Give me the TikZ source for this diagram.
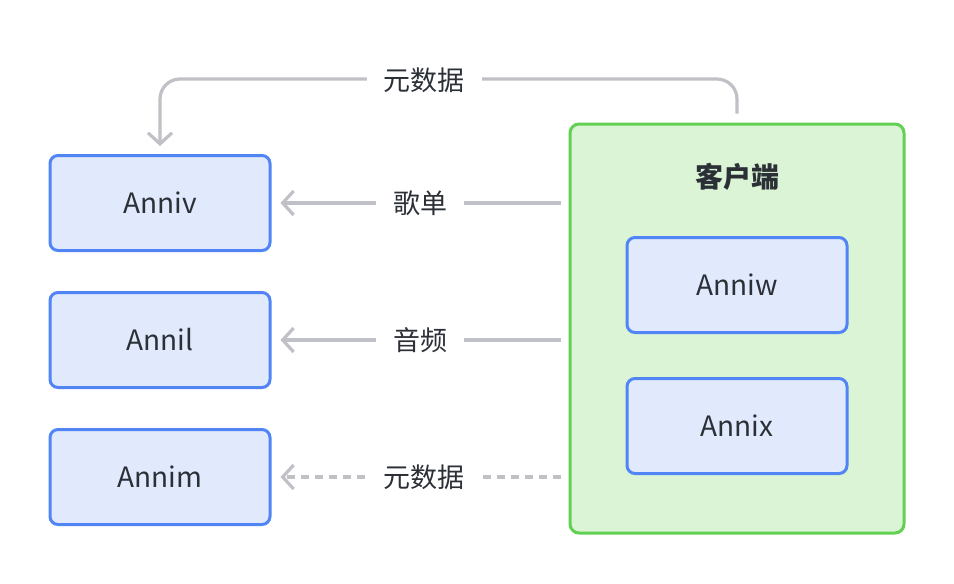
\documentclass[tikz,border=0pt]{standalone}
\usepackage{fontspec}
\setmainfont{Noto Sans CJK SC}
\usetikzlibrary{arrows.meta}
\definecolor{bstroke}{HTML}{5185F5}
\definecolor{bfill}{HTML}{E1E9FD}
\definecolor{gstroke}{HTML}{62D153}
\definecolor{gfill}{HTML}{DAF4D5}
\definecolor{lgray}{HTML}{BFC1C6}
\definecolor{txt}{HTML}{2B2F36}
\tikzset{
  svc/.style={draw=bstroke, fill=bfill, line width=3pt, rounded corners=8pt,
    minimum width=220pt, minimum height=95pt, text=txt,
    font=\fontsize{28}{32}\selectfont},
  grp/.style={draw=gstroke, fill=gfill, line width=3pt, rounded corners=9pt,
    minimum width=334pt, minimum height=409pt},
  flow/.style={draw=lgray, line width=3.2pt,
    -{Straight Barb[length=11pt,width=24pt,line width=3.2pt]}},
  lbl/.style={fill=white, text=txt, inner xsep=17pt, inner ysep=4pt,
    font=\fontsize{27}{31}\selectfont},
}
\begin{document}
\begin{tikzpicture}[x=1pt,y=-1pt]
\useasboundingbox (0,0) rectangle (954,584);
\fill[white] (0,0) rectangle (954,584);

\node[grp] (client) at (737,328.5) {};
\node[text=txt, font=\fontsize{28}{32}\selectfont\bfseries] (title) at (737,177) {客户端};
\node[svc] (anniw) at (737,285) {Anniw};
\node[svc] (annix) at (737,426) {Annix};

\node[svc] (anniv) at (160,203) {Anniv};
\node[svc] (annil) at (160,340) {Annil};
\node[svc] (annim) at (160,477) {Annim};

% top metadata route
\coordinate (tr) at (737,79);
\coordinate (tl) at (160,79);
\draw[flow, rounded corners=20pt, shorten <=9pt, shorten >=8pt]
  (client.north) -- (tr) -- (tl) -- (anniv.north);
\node[lbl] (l0) at (424,80) {元数据};

% playlist
\draw[flow, shorten <=8pt, shorten >=9pt] (client.west |- anniv.east) -- (anniv.east)
  node[lbl, midway] (l1) {歌单};
% audio
\draw[flow, shorten <=8pt, shorten >=9pt] (client.west |- annil.east) -- (annil.east)
  node[lbl, midway] (l2) {音频};
% metadata dashed
\draw[flow, dash pattern=on 8pt off 6pt, shorten <=8pt, shorten >=9pt]
  (client.west |- annim.east) -- (annim.east)
  node[lbl, pos=0.485] (l3) {元数据};
\end{tikzpicture}
\end{document}
